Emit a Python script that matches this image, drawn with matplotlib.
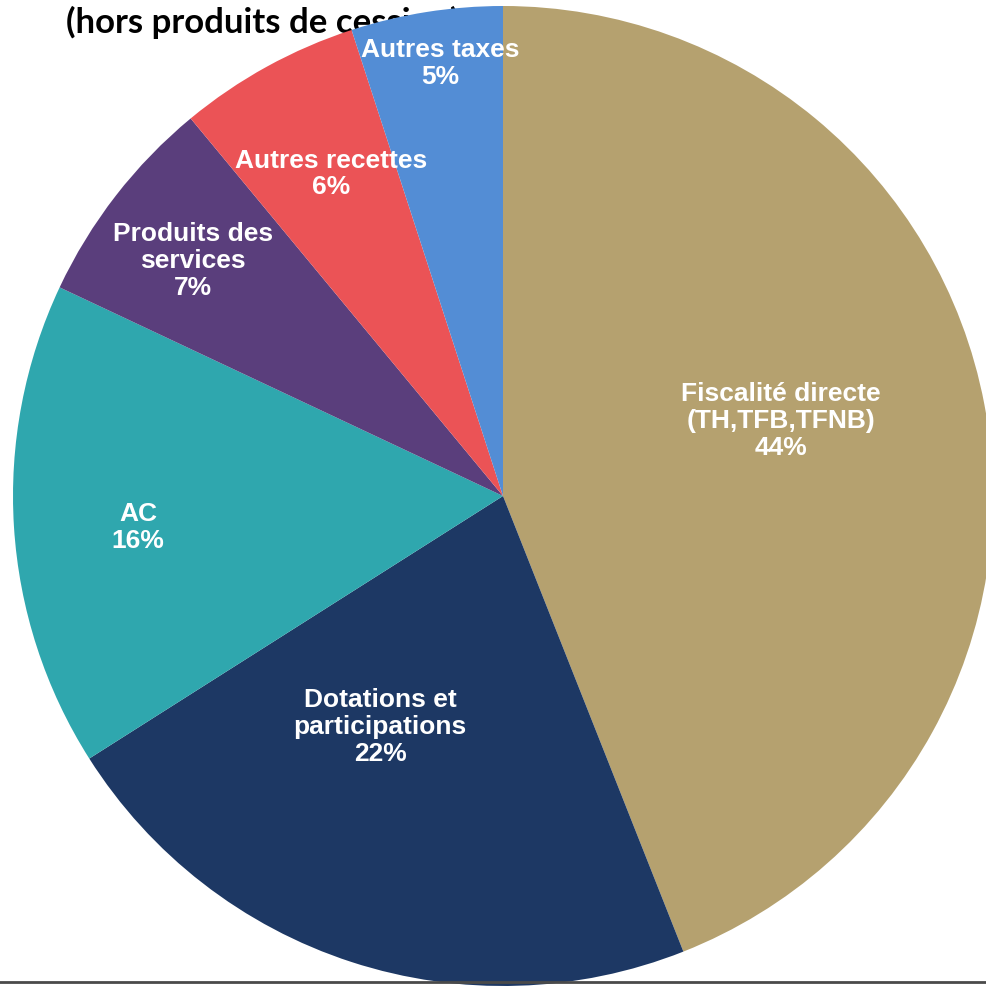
import matplotlib
matplotlib.use("Agg")
import matplotlib.pyplot as plt

# Recettes de fonctionnement (hors produits de cession), en %
categories = ["Fiscalité directe\n(TH,TFB,TFNB)", "Dotations et\nparticipations", "AC",
              "Produits des\nservices", "Autres recettes", "Autres taxes"]
values = [44, 22, 16, 7, 6, 5]
colors = ["#B5A16F", "#1D3864", "#2FA7AE", "#5A3E7C", "#EB5356", "#538DD5"]
# label anchor points, in units of the pie radius
label_xy = [(0.567, 0.153), (-0.251, -0.471), (-0.745, -0.065),
            (-0.633, 0.480), (-0.351, 0.657), (-0.129, 0.882)]

W, H = 987, 986
fig = plt.figure(figsize=(W / 100, H / 100), dpi=100)
ax = fig.add_axes([0, 0, 1, 1])

cx, cy, r = 503, 496, 490

wedges, _ = ax.pie(values, colors=colors, startangle=90, counterclock=False,
                   radius=1.0, center=(0, 0), frame=True,
                   wedgeprops=dict(linewidth=0, zorder=2))
ax.set_xlim(-cx / r, (W - cx) / r)
ax.set_ylim(-(H - cy) / r, cy / r)
ax.set_aspect("auto")
ax.set_axis_off()

for (lx, ly), name, v in zip(label_xy, categories, values):
    ax.text(lx, ly, f"{name}\n{v}%", ha="center", va="center", color="white",
            fontsize=19, fontweight="bold", family="Liberation Sans",
            linespacing=1.15, zorder=5)

ax.text((66 - cx) / r, (cy - 22) / r, "(hors produits de cession)", ha="left",
        va="center", fontsize=25, fontweight="bold", family="Lato",
        color="black", zorder=1, clip_on=False)

ax.axhline(-(982 - cy) / r, color="#4a4a4a", lw=2, zorder=6)

fig.savefig("out.png", dpi=100)
